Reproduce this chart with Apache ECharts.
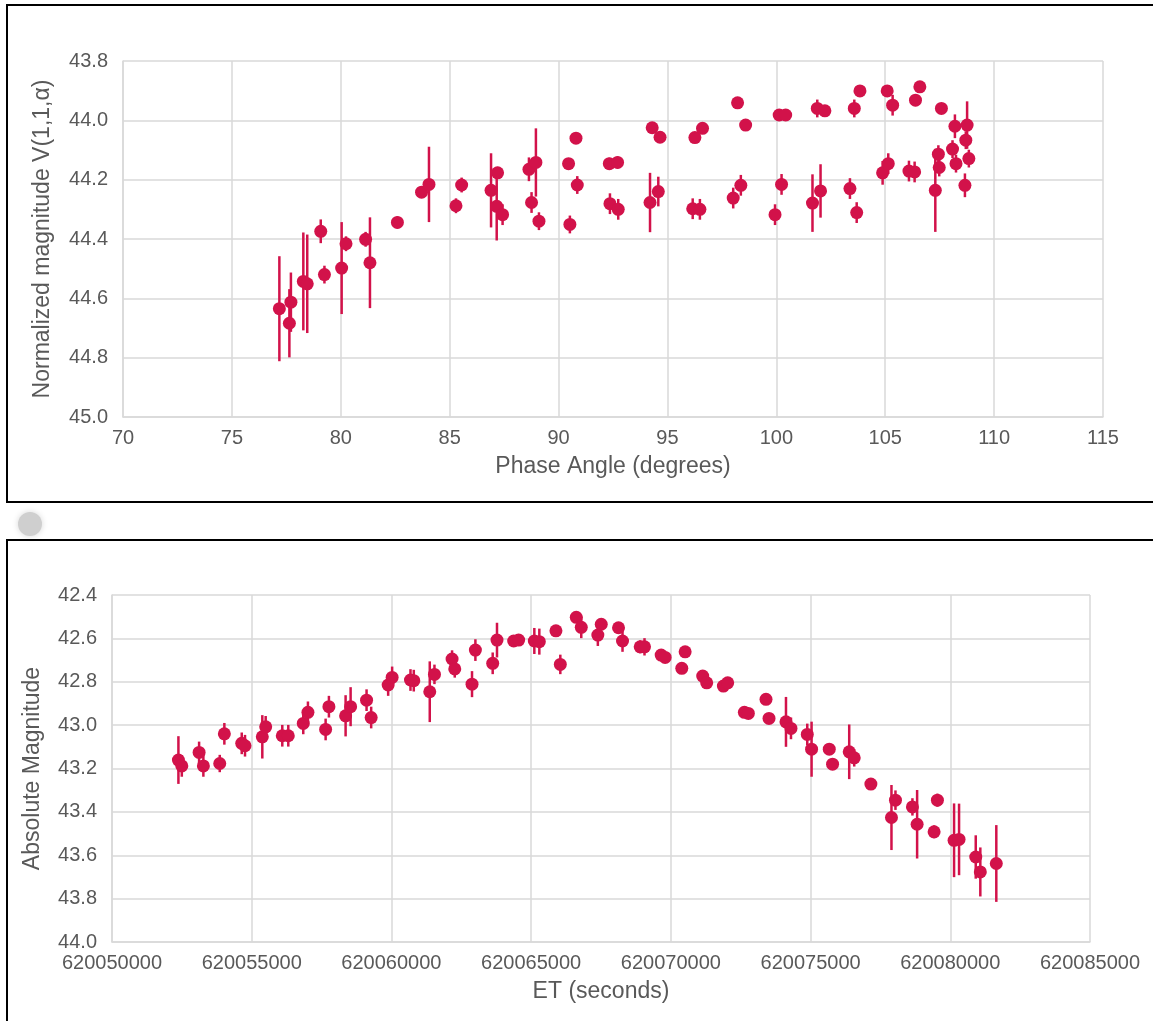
<!DOCTYPE html>
<html>
<head>
<meta charset="utf-8">
<script src="https://cdn.jsdelivr.net/npm/echarts@6/dist/echarts.min.js"></script>
<style>
html,body{margin:0;padding:0;background:#fff;}
#chart{width:1153px;height:1021px;}
</style>
</head>
<body>
<div id="chart"></div>
<script>
// ---- Top panel: normalized magnitude vs phase angle ----
var phaseAngle = [77.18, 77.64, 77.71, 78.28, 78.46, 79.08, 79.25, 80.04, 80.24, 81.14, 81.34, 82.60, 83.71, 84.05, 85.29, 85.55, 86.90, 87.16, 87.20, 87.43, 88.64, 88.96, 88.76, 89.10, 90.46, 90.80, 90.86, 90.52, 92.33, 92.71, 92.36, 92.74, 94.30, 94.66, 94.20, 94.58, 96.26, 96.61, 96.16, 96.49, 98.22, 98.59, 98.02, 98.37, 100.13, 100.43, 99.94, 100.24, 101.88, 102.23, 101.66, 102.03, 103.58, 103.84, 103.38, 103.69, 105.09, 105.34, 104.88, 105.14, 106.59, 106.39, 107.58, 108.20, 108.76, 108.70, 108.09, 108.84, 107.44, 108.25, 107.48, 107.30, 108.66, 106.09, 106.35];
var normMag = [44.635, 44.684, 44.613, 44.543, 44.551, 44.374, 44.52, 44.498, 44.416, 44.401, 44.48, 44.344, 44.242, 44.216, 44.288, 44.218, 44.236, 44.29, 44.177, 44.318, 44.165, 44.142, 44.277, 44.34, 44.146, 44.06, 44.218, 44.351, 44.146, 44.142, 44.281, 44.30, 44.025, 44.057, 44.277, 44.24, 44.058, 44.027, 44.298, 44.30, 43.941, 44.016, 44.262, 44.219, 43.982, 43.982, 44.318, 44.216, 43.96, 43.968, 44.279, 44.238, 43.96, 43.901, 44.23, 44.311, 43.901, 43.949, 44.177, 44.146, 43.887, 43.932, 43.96, 44.02, 44.016, 44.067, 44.097, 44.129, 44.114, 44.146, 44.159, 44.236, 44.219, 44.171, 44.174];
var normErr = [0.177, 0.115, 0.10, 0.165, 0.166, 0.04, 0.03, 0.155, 0.025, 0.025, 0.153, 0.02, 0.02, 0.127, 0.025, 0.025, 0.125, 0.115, 0.02, 0.035, 0.04, 0.115, 0.035, 0.03, 0.015, 0.015, 0.03, 0.03, 0.02, 0.02, 0.035, 0.035, 0.015, 0.01, 0.1, 0.05, 0.01, 0.01, 0.035, 0.035, 0.01, 0.01, 0.035, 0.035, 0.01, 0.01, 0.035, 0.035, 0.03, 0.01, 0.097, 0.09, 0.03, 0.015, 0.035, 0.035, 0.015, 0.035, 0.04, 0.035, 0.015, 0.02, 0.01, 0.04, 0.08, 0.03, 0.03, 0.03, 0.03, 0.03, 0.03, 0.14, 0.04, 0.035, 0.035];

// ---- Bottom panel: absolute magnitude vs ET ----
var etSeconds = [620052377, 620052498, 620053117, 620053270, 620053856, 620054021, 620054643, 620054760, 620055379, 620055500, 620056094, 620056309, 620056845, 620057012, 620057645, 620057763, 620058360, 620058539, 620059110, 620059275, 620059883, 620060025, 620060682, 620060800, 620061372, 620061540, 620062170, 620062266, 620062884, 620063005, 620063624, 620063778, 620064375, 620064553, 620065114, 620065293, 620065887, 620066044, 620066615, 620066794, 620067509, 620067387, 620068127, 620068270, 620068903, 620069057, 620069653, 620069796, 620070511, 620070391, 620071140, 620071283, 620071880, 620072034, 620072631, 620072774, 620073405, 620073513, 620074120, 620074299, 620074882, 620075036, 620075669, 620075787, 620076383, 620076562, 620077158, 620078038, 620077895, 620078645, 620078813, 620079539, 620079421, 620080135, 620080314, 620080911, 620081075, 620081647];
var absMag = [43.161, 43.188, 43.126, 43.188, 43.177, 43.04, 43.084, 43.095, 43.054, 43.008, 43.049, 43.049, 42.992, 42.941, 43.02, 42.915, 42.957, 42.915, 42.885, 42.965, 42.815, 42.78, 42.792, 42.795, 42.846, 42.766, 42.695, 42.741, 42.811, 42.654, 42.715, 42.608, 42.612, 42.608, 42.612, 42.615, 42.565, 42.72, 42.503, 42.549, 42.535, 42.585, 42.551, 42.612, 42.639, 42.639, 42.677, 42.688, 42.662, 42.738, 42.774, 42.805, 42.82, 42.805, 42.941, 42.946, 42.881, 42.969, 42.985, 43.015, 43.043, 43.111, 43.111, 43.18, 43.123, 43.151, 43.272, 43.346, 43.426, 43.377, 43.457, 43.346, 43.492, 43.531, 43.527, 43.608, 43.677, 43.638];
var absErr = [0.11, 0.05, 0.05, 0.05, 0.04, 0.05, 0.05, 0.05, 0.1, 0.05, 0.05, 0.05, 0.05, 0.05, 0.05, 0.05, 0.095, 0.09, 0.05, 0.05, 0.05, 0.05, 0.05, 0.05, 0.14, 0.045, 0.04, 0.04, 0.06, 0.05, 0.05, 0.08, 0.02, 0.02, 0.06, 0.06, 0.02, 0.045, 0.02, 0.05, 0.02, 0.05, 0.02, 0.05, 0.03, 0.04, 0.02, 0.02, 0.02, 0.02, 0.02, 0.02, 0.02, 0.02, 0.02, 0.02, 0.02, 0.02, 0.115, 0.05, 0.05, 0.127, 0.02, 0.02, 0.126, 0.04, 0.02, 0.045, 0.15, 0.04, 0.158, 0.03, 0.03, 0.17, 0.165, 0.1, 0.113, 0.177];

var topYTicks = ['43.8', '44.0', '44.2', '44.4', '44.6', '44.8', '45.0'];
var bottomYTicks = ['42.4', '42.6', '42.8', '43.0', '43.2', '43.4', '43.6', '43.8', '44.0'];

var RED = '#d2124a';
var GRIDC = '#d9d9d9';
var TXT = '#595959';
var FONT = 'Liberation Sans';

function pts(xs, ys) { return xs.map(function (x, i) { return [x, ys[i]]; }); }
function bars(xs, ys, es) { return xs.map(function (x, i) { return [x, ys[i] - es[i], ys[i] + es[i]]; }); }

function errRender(params, api) {
  var p1 = api.coord([api.value(0), api.value(1)]);
  var p2 = api.coord([api.value(0), api.value(2)]);
  return { type: 'line', shape: { x1: p1[0], y1: p1[1], x2: p2[0], y2: p2[1] },
           style: { stroke: RED, lineWidth: 2.5 } };
}

function xAx(idx, min, max, interval, name, gap) {
  return {
    type: 'value', gridIndex: idx, min: min, max: max, interval: interval,
    name: name, nameLocation: 'middle', nameGap: gap,
    nameTextStyle: { color: TXT, fontSize: 23, fontFamily: FONT },
    axisLine: { show: true, lineStyle: { color: GRIDC, width: 1.5 } },
    axisTick: { show: false },
    axisLabel: { color: TXT, fontSize: 20, fontFamily: FONT, margin: 11, showMaxLabel: true, showMinLabel: true,
      formatter: function (v) { return String(v); } },
    splitLine: { show: true, lineStyle: { color: GRIDC, width: 1.5 } }
  };
}
function yAx(idx, min, max, labels, name, gap) {
  return {
    type: 'value', gridIndex: idx, min: min, max: max, interval: 0.2, inverse: true,
    name: name, nameLocation: 'middle', nameGap: gap,
    nameTextStyle: { color: TXT, fontSize: 23, fontFamily: FONT },
    axisLine: { show: true, lineStyle: { color: GRIDC, width: 1.5 } },
    axisTick: { show: false },
    axisLabel: { color: TXT, fontSize: 20, fontFamily: FONT, margin: 15,
      formatter: function (v) { var i = Math.round((v - min) / 0.2); return labels[i] !== undefined ? labels[i] : v.toFixed(1); } },
    splitLine: { show: true, lineStyle: { color: GRIDC, width: 1.5 } }
  };
}

var chart = echarts.init(document.getElementById('chart'), null, { renderer: 'canvas' });
chart.setOption({
  animation: false,
  backgroundColor: '#ffffff',
  grid: [
    { left: 123, top: 61, width: 980, height: 356 },
    { left: 112, top: 595, width: 978, height: 347 }
  ],
  xAxis: [
    xAx(0, 70, 115, 5, 'Phase Angle (degrees)', 38),
    xAx(1, 620050000, 620085000, 5000, 'ET (seconds)', 38)
  ],
  yAxis: [
    yAx(0, 43.8, 45.0, topYTicks, 'Normalized magnitude V(1,1,\u03b1)', 69),
    yAx(1, 42.4, 44.0, bottomYTicks, 'Absolute Magnitude', 68)
  ],
  graphic: [
    { type: 'rect', shape: { x: 7, y: 5, width: 1170, height: 497 }, style: { fill: 'none', stroke: '#000', lineWidth: 2 }, z: 100 },
    { type: 'rect', shape: { x: 7, y: 540, width: 1170, height: 520 }, style: { fill: 'none', stroke: '#000', lineWidth: 2 }, z: 100 },
    { type: 'circle', shape: { cx: 30, cy: 524, r: 12 }, style: { fill: '#cfcfcf', shadowBlur: 6, shadowColor: '#d8d8d8' }, z: 1 }
  ],
  series: [
    { type: 'custom', xAxisIndex: 0, yAxisIndex: 0, renderItem: errRender, data: bars(phaseAngle, normMag, normErr), encode: { x: 0, y: [1, 2] }, z: 3 },
    { type: 'scatter', xAxisIndex: 0, yAxisIndex: 0, data: pts(phaseAngle, normMag), symbol: 'circle', symbolSize: 13, itemStyle: { color: RED, opacity: 1 }, z: 4 },
    { type: 'custom', xAxisIndex: 1, yAxisIndex: 1, renderItem: errRender, data: bars(etSeconds, absMag, absErr), encode: { x: 0, y: [1, 2] }, z: 3 },
    { type: 'scatter', xAxisIndex: 1, yAxisIndex: 1, data: pts(etSeconds, absMag), symbol: 'circle', symbolSize: 13, itemStyle: { color: RED, opacity: 1 }, z: 4 }
  ]
});
</script>
</body>
</html>
